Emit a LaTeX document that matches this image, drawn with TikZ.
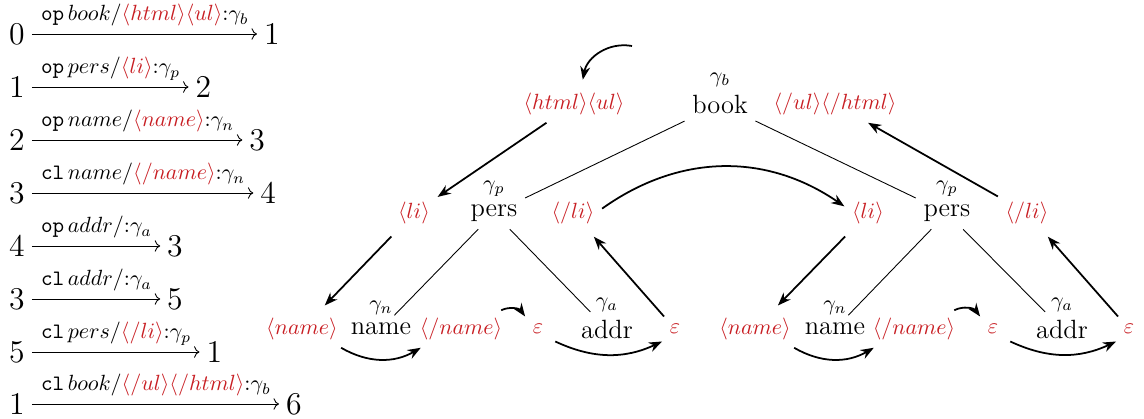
\documentclass[tikz,border=0pt]{standalone}
\usepackage{xcolor}
\usetikzlibrary{positioning,arrows.meta}
\definecolor{tagRed}{RGB}{200,30,35}
\tikzset{
  num/.style={font=\Large, inner sep=3pt},
  elab/.style={anchor=base west, inner sep=1pt},
  tnode/.style={font=\large},
  gam/.style={font=\normalsize, inner sep=0pt},
  tag/.style={text=tagRed},
  tedge/.style={thin},
  run/.style={->},
  trav/.style={-{Stealth[length=6pt]}, thick},
}
\newcommand{\tg}[1]{\textcolor{tagRed}{\ensuremath{\langle #1\rangle}}}
\newcommand{\ctg}[1]{\textcolor{tagRed}{\ensuremath{\langle /#1\rangle}}}
\newcommand{\kw}[1]{\texttt{#1}\,}

\begin{document}
\begin{tikzpicture}[x=0.4545pt, y=-0.4545pt]
\useasboundingbox (0,0) rectangle (1144,419);

%% ── the transitions, one per row ─────────────────────────────────────────
\node[num] (s1) at (17,34) {0};
\node[elab] (l1) at ([xshift=3pt,yshift=6pt]s1.east) {\kw{op}$book/\tg{html}\tg{ul}{:}\gamma_b$};
\node[num, anchor=west] (t1) at ([xshift=2.5pt]l1.east |- s1) {1};
\draw[run] (s1) -- (t1);

\node[num] (s2) at (17,87) {1};
\node[elab] (l2) at ([xshift=3pt,yshift=6pt]s2.east) {\kw{op}$pers/\tg{li}{:}\gamma_p$};
\node[num, anchor=west] (t2) at ([xshift=2.5pt]l2.east |- s2) {2};
\draw[run] (s2) -- (t2);

\node[num] (s3) at (17,140) {2};
\node[elab] (l3) at ([xshift=3pt,yshift=6pt]s3.east) {\kw{op}$name/\tg{name}{:}\gamma_n$};
\node[num, anchor=west] (t3) at ([xshift=2.5pt]l3.east |- s3) {3};
\draw[run] (s3) -- (t3);

\node[num] (s4) at (17,193) {3};
\node[elab] (l4) at ([xshift=3pt,yshift=6pt]s4.east) {\kw{cl}$name/\ctg{name}{:}\gamma_n$};
\node[num, anchor=west] (t4) at ([xshift=2.5pt]l4.east |- s4) {4};
\draw[run] (s4) -- (t4);

\node[num] (s5) at (17,246) {4};
\node[elab] (l5) at ([xshift=3pt,yshift=6pt]s5.east) {\kw{op}$addr/{:}\gamma_a$};
\node[num, anchor=west] (t5) at ([xshift=2.5pt]l5.east |- s5) {3};
\draw[run] (s5) -- (t5);

\node[num] (s6) at (17,299) {3};
\node[elab] (l6) at ([xshift=3pt,yshift=6pt]s6.east) {\kw{cl}$addr/{:}\gamma_a$};
\node[num, anchor=west] (t6) at ([xshift=2.5pt]l6.east |- s6) {5};
\draw[run] (s6) -- (t6);

\node[num] (s7) at (17,352) {5};
\node[elab] (l7) at ([xshift=3pt,yshift=6pt]s7.east) {\kw{cl}$pers/\ctg{li}{:}\gamma_p$};
\node[num, anchor=west] (t7) at ([xshift=2.5pt]l7.east |- s7) {1};
\draw[run] (s7) -- (t7);

\node[num] (s8) at (17,404) {1};
\node[elab] (l8) at ([xshift=3pt,yshift=6pt]s8.east) {\kw{cl}$book/\ctg{ul}\ctg{html}{:}\gamma_b$};
\node[num, anchor=west] (t8) at ([xshift=2.5pt]l8.east |- s8) {6};
\draw[run] (s8) -- (t8);

%% ── the tree with its tags ───────────────────────────────────────────────
\node[tnode, label={[gam]above:$\gamma_b$}] (book) at (720,104) {book};
\node[tag] (hu) at (574,104) {$\tg{html}\tg{ul}$};
\node[tag] (uh) at (835,104) {$\ctg{ul}\ctg{html}$};

\node[tnode, label={[gam]above:$\gamma_p$}] (persA) at (494,213) {pers};
\node[tag] (liA) at (414,213) {$\tg{li}$};
\node[tag] (cliA) at (573,213) {$\ctg{li}$};
\node[tnode, label={[gam]above:$\gamma_n$}] (nameA) at (381,329) {name};
\node[tag] (onA) at (302,329) {$\tg{name}$};
\node[tag] (cnA) at (461,329) {$\ctg{name}$};
\node[tag] (epsA) at (538,329) {$\varepsilon$};
\node[tnode, label={[gam]above:$\gamma_a$}] (addrA) at (607,329) {addr};
\node[tag] (epsB) at (675,329) {$\varepsilon$};

\node[tnode, label={[gam]above:$\gamma_p$}] (persB) at (947,213) {pers};
\node[tag] (liB) at (868,213) {$\tg{li}$};
\node[tag] (cliB) at (1027,213) {$\ctg{li}$};
\node[tnode, label={[gam]above:$\gamma_n$}] (nameB) at (835,329) {name};
\node[tag] (onB) at (755,329) {$\tg{name}$};
\node[tag] (cnB) at (914,329) {$\ctg{name}$};
\node[tag] (epsC) at (993,329) {$\varepsilon$};
\node[tnode, label={[gam]above:$\gamma_a$}] (addrB) at (1062,329) {addr};
\node[tag] (epsD) at (1129,329) {$\varepsilon$};

\draw[tedge] (book) -- (persA);
\draw[tedge] (book) -- (persB);
\draw[tedge] (persA) -- (nameA);
\draw[tedge] (persA) -- (addrA);
\draw[tedge] (persB) -- (nameB);
\draw[tedge] (persB) -- (addrB);

%% ── the walk ─────────────────────────────────────────────────────────────
\coordinate (go) at (632,46);
\draw[trav] (go) to[bend right=45] ([xshift=4pt,yshift=2.5pt]hu.north);
\draw[trav] (hu) -- (liA);
\draw[trav, shorten <=3pt, shorten >=3pt] (liA) -- (onA);
\draw[trav] ([xshift=-2pt]onA.south east) to[bend right=30] ([xshift=4pt]cnA.south west);
\draw[trav] ([xshift=-4pt]cnA.north east) to[bend left=40] (epsA.north west);
\draw[trav] ([xshift=2pt]epsA.south east) to[bend right=25] (epsB.south west);
\draw[trav, shorten >=3pt] (epsB) -- (cliA);
\draw[trav] ([yshift=2pt]cliA.east) to[bend left=35] ([yshift=3pt]liB.west);
\draw[trav, shorten <=3pt, shorten >=3pt] (liB) -- (onB);
\draw[trav] ([xshift=-2pt]onB.south east) to[bend right=30] ([xshift=4pt]cnB.south west);
\draw[trav] ([xshift=-4pt]cnB.north east) to[bend left=40] (epsC.north west);
\draw[trav] ([xshift=2pt]epsC.south east) to[bend right=25] (epsD.south west);
\draw[trav, shorten >=3pt] (epsD) -- (cliB);
\draw[trav] (cliB) -- (uh);

\end{tikzpicture}
\end{document}
